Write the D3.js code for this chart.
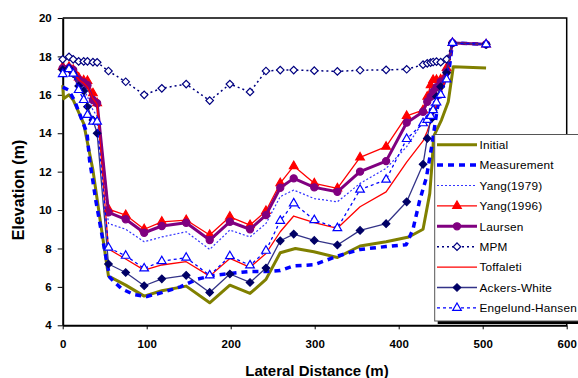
<!DOCTYPE html>
<html>
<head>
<meta charset="utf-8">
<script src="https://cdn.jsdelivr.net/npm/d3@7"></script>
<style>
  html, body { margin: 0; padding: 0; background: #fff; }
  svg { display: block; font-family: "Liberation Sans", Arial, sans-serif; }
</style>
</head>
<body>
<svg id="chart" width="578" height="378"></svg>
<script>
// Cross-section stations (m) shared by the model results
const stations = [0, 7.5, 12.5, 19, 25, 29.5, 36, 41, 54.5, 75, 97, 118, 147, 175, 199, 223, 242,
                  259, 275, 299.5, 327, 354, 385, 409.5, 429, 434, 438, 441, 445, 450, 457, 464, 504];

// Initial bed and measured bed have their own survey points
const initialX = [0, 1, 7.5, 12.5, 25, 36, 44, 54.5, 75, 97, 118, 147, 175, 199, 223, 242, 259, 277,
                  299, 327, 354, 385, 412, 429, 437, 440, 441.5, 451, 459, 465, 504];
const initialY = [16.5, 15.8, 16.0, 15.73, 14.5, 12.08, 9.65, 6.56, 6.09, 5.52, 5.8, 6.04, 5.17, 6.09,
                  5.66, 6.39, 7.78, 8.0, 7.83, 7.53, 8.13, 8.35, 8.6, 9.0, 10.87, 12.6, 13.82, 14.7,
                  15.64, 17.46, 17.4];

const measuredX = [0, 7, 14, 29, 32, 36, 39, 50, 56, 70, 85, 100, 118, 140, 160, 180, 200, 222, 242,
                   259, 275, 299, 327, 354, 385, 409, 417, 425, 433, 440, 446, 452, 460, 464, 504];
const measuredY = [16.4, 16.25, 15.7, 14.0, 12.6, 11.5, 10.6, 7.9, 6.5, 5.9, 5.6, 5.5, 5.7, 6.0, 6.4,
                   6.6, 6.7, 6.8, 6.8, 6.85, 7.1, 7.15, 7.6, 7.95, 8.1, 8.2, 9.0, 10.5, 11.7, 13.5,
                   15.3, 16.4, 17.3, 18.7, 18.63];

// Computed bed elevations (m) by sediment transport formula
const yang1979 = [17.2, 17.3, 17.1, 16.6, 16.3, 15.9, 15.2, 14.9, 9.3, 9.0, 8.35, 8.6, 8.87, 7.95, 8.96,
                  8.6, 9.3, 10.7, 11.04, 10.6, 10.43, 11.39, 12.17, 13.3, 14.6, 15.0, 15.4, 15.6, 16.0,
                  16.4, 17.0, 18.7, 18.63];
const yang1996 = [17.45, 17.45, 17.3, 16.9, 16.75, 16.72, 16.08, 15.56, 10.05, 9.74, 9.0, 9.39, 9.48,
                  8.7, 9.65, 9.22, 9.95, 11.4, 12.29, 11.39, 11.13, 12.74, 13.3, 14.9, 15.2, 15.9, 16.5,
                  16.77, 16.77, 16.8, 17.4, 18.7, 18.63];
const laursen = [17.38, 17.4, 17.3, 16.8, 16.65, 16.5, 15.73, 15.56, 9.88, 9.52, 8.82, 9.17, 9.34, 8.44,
                 9.39, 9.0, 9.74, 11.16, 11.65, 11.18, 10.95, 12.0, 12.55, 14.55, 15.12, 15.64, 15.9,
                 16.16, 16.4, 16.68, 17.2, 18.7, 18.63];
const mpm = [17.85, 17.98, 17.85, 17.74, 17.74, 17.74, 17.7, 17.69, 17.24, 16.68, 16.0, 16.34, 16.56,
             15.7, 16.56, 16.15, 17.24, 17.29, 17.29, 17.26, 17.22, 17.28, 17.3, 17.33, 17.57, 17.64,
             17.68, 17.71, 17.73, 17.7, 17.85, 18.7, 18.63];
const toffaleti = [17.4, 17.4, 17.2, 16.8, 16.6, 16.4, 15.8, 15.5, 7.97, 7.45, 6.87, 7.14, 7.31, 6.56,
                   7.48, 7.02, 7.74, 8.87, 9.69, 9.34, 9.05, 10.17, 10.95, 12.5, 13.6, 14.1, 14.6, 15.0,
                   15.5, 16.1, 16.9, 18.7, 18.63];
const ackersWhite = [17.3, 17.38, 17.1, 16.46, 16.2, 15.38, 14.69, 14.0, 7.19, 6.75, 6.06, 6.42, 6.6,
                     5.71, 6.67, 6.23, 6.98, 8.4, 8.75, 8.42, 8.18, 8.94, 9.29, 10.43, 12.38, 13.73,
                     14.72, 15.2, 15.9, 16.42, 17.15, 18.7, 18.63];
const engelundHansen = [17.08, 17.34, 17.1, 16.25, 15.73, 14.95, 14.6, 14.6, 8.04, 7.62, 6.96, 7.34,
                        7.52, 6.6, 7.6, 7.12, 7.88, 9.44, 10.35, 9.48, 9.06, 11.06, 11.58, 13.7, 14.52,
                        14.7, 14.9, 15.2, 15.6, 16.0, 16.8, 18.7, 18.63];

const seriesNames = ["Initial", "Measurement", "Yang(1979)", "Yang(1996)", "Laursen", "MPM",
                     "Toffaleti", "Ackers-White", "Engelund-Hansen"];
const xTicks = [0, 100, 200, 300, 400, 500, 600];
const yTicks = [4, 6, 8, 10, 12, 14, 16, 18, 20];

// Series table: data plus drawing style
const zip = (xs, ys) => xs.map((v, i) => [v, ys[i]]);
const series = [
  { name: seriesNames[0], pts: zip(initialX, initialY), color: "#808000", width: 3 },
  { name: seriesNames[1], pts: zip(measuredX, measuredY), color: "#0000FF", width: 3.5, dash: "6,5" },
  { name: seriesNames[2], pts: zip(stations, yang1979), color: "#3333FF", width: 1.2, dash: "2,2" },
  { name: seriesNames[3], pts: zip(stations, yang1996), color: "#FF0000", width: 1.3,
    marker: "triangle", mfill: "#FF0000", mstroke: "#FF0000" },
  { name: seriesNames[4], pts: zip(stations, laursen), color: "#800080", width: 3,
    marker: "circle", mfill: "#800080", mstroke: "#800080" },
  { name: seriesNames[5], pts: zip(stations, mpm), color: "#000080", width: 1.5, dash: "2,3",
    marker: "diamond", mfill: "#fff", mstroke: "#000080" },
  { name: seriesNames[6], pts: zip(stations, toffaleti), color: "#FF0000", width: 1.3 },
  { name: seriesNames[7], pts: zip(stations, ackersWhite), color: "#333388", width: 1.3,
    marker: "diamond", mfill: "#000066", mstroke: "#000066" },
  { name: seriesNames[8], pts: zip(stations, engelundHansen), color: "#0000FF", width: 1.3, dash: "3,3",
    marker: "triangle", mfill: "#fff", mstroke: "#0000FF" }
];

const plot = { left: 62.7, right: 566.7, top: 18, bottom: 325.3 };
const x = d3.scaleLinear().domain([0, 600]).range([plot.left, plot.right]);
const y = d3.scaleLinear().domain([4, 20]).range([plot.bottom, plot.top]);

const svg = d3.select("#chart");

// Plot frame (top and right)
svg.append("path")
  .attr("d", `M${plot.left},${plot.top}H${plot.right}V${plot.bottom}`)
  .attr("fill", "none").attr("stroke", "#000").attr("stroke-width", 1.5);

// Axes
const gx = svg.append("g").attr("transform", `translate(0,${plot.bottom})`)
  .call(d3.axisBottom(x).tickValues(xTicks).tickSize(4).tickSizeOuter(0).tickPadding(11)
    .tickFormat(d3.format("d")));
const gy = svg.append("g").attr("transform", `translate(${plot.left},0)`)
  .call(d3.axisLeft(y).tickValues(yTicks).tickSize(5).tickSizeOuter(0).tickPadding(6)
    .tickFormat(d3.format("d")));
[gx, gy].forEach(g => {
  g.select(".domain").attr("stroke", "#000").attr("stroke-width", 2);
  g.selectAll(".tick line").attr("stroke", "#000").attr("stroke-width", 1);
  g.selectAll(".tick text").attr("fill", "#000").attr("font-size", 11.5).attr("font-weight", "bold")
    .attr("font-family", "'Liberation Sans', Arial, sans-serif");
});

// Axis titles
svg.append("text").attr("x", 317).attr("y", 376).attr("text-anchor", "middle")
  .attr("font-size", 15).attr("font-weight", "bold").text("Lateral Distance (m)");
svg.append("text").attr("transform", "translate(23.5,190) rotate(-90)").attr("text-anchor", "middle")
  .attr("font-size", 16).attr("font-weight", "bold").text("Elevation (m)");

// Marker shapes
function markerPath(kind) {
  if (kind === "triangle") return d3.symbol(d3.symbolTriangle, 32)();
  if (kind === "circle") return d3.symbol(d3.symbolCircle, 40)();
  return d3.symbol(d3.symbolSquare, 28)();
}
function markerRotate(kind) { return kind === "diamond" ? " rotate(45)" : ""; }

const line = d3.line().x(d => x(d[0])).y(d => y(d[1]));

// Series lines and markers
series.forEach(s => {
  const g = svg.append("g");
  g.append("path").datum(s.pts).attr("d", line)
    .attr("fill", "none").attr("stroke", s.color).attr("stroke-width", s.width)
    .attr("stroke-dasharray", s.dash || null).attr("stroke-linejoin", "round");
  if (s.marker) {
    g.selectAll("path.m").data(s.pts).enter().append("path").attr("class", "m")
      .attr("d", markerPath(s.marker))
      .attr("transform", d => `translate(${x(d[0])},${y(d[1])})${markerRotate(s.marker)}`)
      .attr("fill", s.mfill).attr("stroke", s.mstroke).attr("stroke-width", 1.2);
  }
});

// Legend
const lg = svg.append("g");
const lgBox = { x: 434.7, y: 134.5, w: 160, h: 186.5 };
lg.append("rect").attr("x", lgBox.x + 3).attr("y", lgBox.y + 3).attr("width", lgBox.w).attr("height", lgBox.h)
  .attr("fill", "#000");
lg.append("rect").attr("x", lgBox.x).attr("y", lgBox.y).attr("width", lgBox.w).attr("height", lgBox.h)
  .attr("fill", "#fff").attr("stroke", "#555").attr("stroke-width", 1);
series.forEach((s, i) => {
  const cy = 144.7 + i * 20.4;
  const row = lg.append("g");
  row.append("line").attr("x1", 437).attr("x2", 477).attr("y1", cy).attr("y2", cy)
    .attr("stroke", s.color).attr("stroke-width", s.width).attr("stroke-dasharray", s.dash || null);
  if (s.marker) {
    row.append("path").attr("d", markerPath(s.marker))
      .attr("transform", `translate(457,${cy})${markerRotate(s.marker)}`)
      .attr("fill", s.mfill).attr("stroke", s.mstroke).attr("stroke-width", 1.2);
  }
  row.append("text").attr("x", 479.5).attr("y", cy + 4.2).attr("font-size", 11.8)
    .attr("letter-spacing", 0.2).attr("fill", "#000").text(s.name);
});
</script>
</body>
</html>
